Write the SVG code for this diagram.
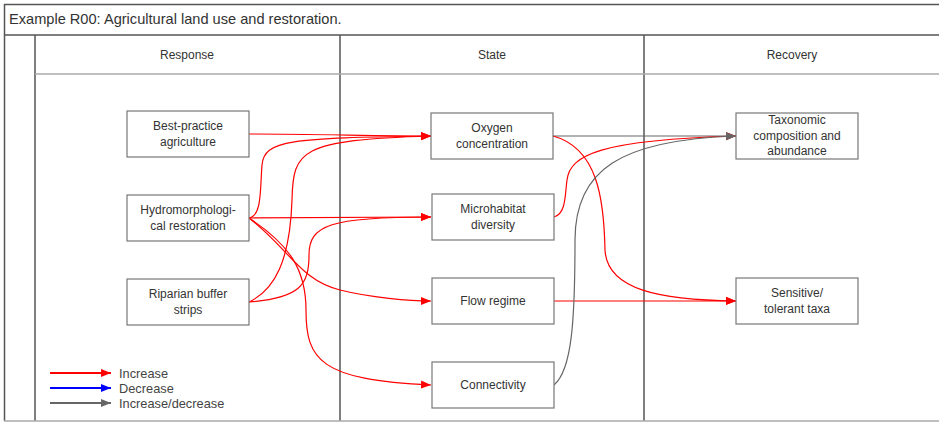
<svg xmlns="http://www.w3.org/2000/svg" width="939" height="423" viewBox="0 0 939 423">
  <style>
    .frame { fill: none; stroke: #555; stroke-width: 1.5; }
    .rule { fill: none; stroke: #aaa; stroke-width: 1.5; }
    .box { fill: #fff; stroke: #777; stroke-width: 1.2; }
    .lbl { font-family: "Liberation Sans", Arial, sans-serif; font-size: 12px; fill: #333; text-anchor: middle; }
    .title { font-family: "Liberation Sans", Arial, sans-serif; font-size: 14.6px; fill: #333; }
    .leg { font-family: "Liberation Sans", Arial, sans-serif; font-size: 12.8px; fill: #444; }
    .inc { fill: none; stroke: #ff0000; stroke-width: 1.2; marker-end: url(#ahRed); }
    .mix { fill: none; stroke: #666; stroke-width: 1.2; marker-end: url(#ahGray); }
  </style>
  <defs>
    <marker id="ahRed" markerUnits="userSpaceOnUse" markerWidth="10" markerHeight="10" viewBox="0 0 10 10" refX="10" refY="5" orient="auto">
      <path d="M0,1 L10,5 L0,9 Z" fill="#ff0000"/>
    </marker>
    <marker id="ahGray" markerUnits="userSpaceOnUse" markerWidth="10" markerHeight="10" viewBox="0 0 10 10" refX="10" refY="5" orient="auto">
      <path d="M0,1 L10,5 L0,9 Z" fill="#666"/>
    </marker>
    <marker id="ahBlue" markerUnits="userSpaceOnUse" markerWidth="10" markerHeight="10" viewBox="0 0 10 10" refX="10" refY="5" orient="auto">
      <path d="M0,1 L10,5 L0,9 Z" fill="#0000ff"/>
    </marker>
  </defs>

  <rect width="939" height="423" fill="#fff"/>

  <!-- table frame -->
  <g id="frame">
    <line class="frame" x1="4" y1="4.5" x2="939" y2="4.5" stroke-width="2"/>
    <line class="frame" x1="4" y1="35" x2="939" y2="35" stroke-width="2"/>
    <line class="frame" x1="4.5" y1="4" x2="4.5" y2="421"/>
    <line class="frame" x1="35" y1="35" x2="35" y2="421"/>
    <line class="frame" x1="340" y1="35" x2="340" y2="421"/>
    <line class="frame" x1="644" y1="35" x2="644" y2="421"/>
    <line class="rule" x1="35" y1="74" x2="939" y2="74"/>
    <line class="rule" x1="4" y1="421" x2="939" y2="421"/>
    <text class="title" x="9" y="24">Example R00: Agricultural land use and restoration.</text>
    <text class="lbl" x="187" y="59">Response</text>
    <text class="lbl" x="492" y="59">State</text>
    <text class="lbl" x="792" y="59">Recovery</text>
  </g>

  <!-- connectors -->
  <g id="connectors">
    <path class="inc" d="M249,134 C310,134 380,136 431,136"/>
    <path class="inc" d="M249,218 C262,216 260,190 262,165 C264,140 290,138 431,136"/>
    <path class="inc" d="M249,302 C275,290 290,260 292,200 C293,150 300,140 431,136"/>
    <path class="inc" d="M249,218 L431,217"/>
    <path class="inc" d="M249,302 C300,298 309,285 309,255 C309,225 330,217 431,217"/>
    <path class="inc" d="M249,218 C290,250 300,280 340,290 C370,297.5 410,301 431,301"/>
    <path class="inc" d="M249,218 C290,245 306,270 306,310 C306,360 320,380 431,385"/>
    <path class="mix" d="M553,136 L736,136"/>
    <path class="inc" d="M553,136 C598,148 604,200 605,250 C607,290 660,300 736,301"/>
    <path class="inc" d="M554,217 C566,214 565,195 567,180 C570,155 600,140 736,136"/>
    <path class="inc" d="M554,301 L736,301"/>
    <path class="mix" d="M554,385 C572,370 575,320 575,240 C575,170 620,140 736,136"/>
  </g>

  <!-- Response column -->
  <g id="best-practice">
    <rect class="box" x="127" y="111" width="122" height="46"/>
    <text class="lbl" x="188" y="130">Best-practice</text>
    <text class="lbl" x="188" y="146">agriculture</text>
  </g>
  <g id="hydromorphological">
    <rect class="box" x="127" y="195" width="122" height="46"/>
    <text class="lbl" x="188" y="214">Hydromorphologi-</text>
    <text class="lbl" x="188" y="230">cal restoration</text>
  </g>
  <g id="riparian">
    <rect class="box" x="127" y="279" width="122" height="46"/>
    <text class="lbl" x="188" y="298">Riparian buffer</text>
    <text class="lbl" x="188" y="314">strips</text>
  </g>

  <!-- State column -->
  <g id="oxygen">
    <rect class="box" x="431" y="113" width="122" height="46"/>
    <text class="lbl" x="492" y="132">Oxygen</text>
    <text class="lbl" x="492" y="148">concentration</text>
  </g>
  <g id="microhabitat">
    <rect class="box" x="432" y="194" width="122" height="46"/>
    <text class="lbl" x="493" y="213">Microhabitat</text>
    <text class="lbl" x="493" y="229">diversity</text>
  </g>
  <g id="flow">
    <rect class="box" x="432" y="278" width="122" height="46"/>
    <text class="lbl" x="493" y="305">Flow regime</text>
  </g>
  <g id="connectivity">
    <rect class="box" x="432" y="362" width="122" height="46"/>
    <text class="lbl" x="493" y="389">Connectivity</text>
  </g>

  <!-- Recovery column -->
  <g id="taxonomic">
    <rect class="box" x="736" y="113" width="122" height="46"/>
    <text class="lbl" x="797" y="124">Taxonomic</text>
    <text class="lbl" x="797" y="139.5">composition and</text>
    <text class="lbl" x="797" y="155">abundance</text>
  </g>
  <g id="sensitive">
    <rect class="box" x="736" y="278" width="122" height="46"/>
    <text class="lbl" x="797" y="297">Sensitive/</text>
    <text class="lbl" x="797" y="313">tolerant taxa</text>
  </g>

  <!-- legend -->
  <g id="legend">
    <line x1="50" y1="373" x2="111" y2="373" stroke="#ff0000" stroke-width="2" marker-end="url(#ahRed)"/>
    <line x1="50" y1="388" x2="111" y2="388" stroke="#0000ff" stroke-width="2" marker-end="url(#ahBlue)"/>
    <line x1="50" y1="403" x2="111" y2="403" stroke="#666" stroke-width="2" marker-end="url(#ahGray)"/>
    <text class="leg" x="119" y="378">Increase</text>
    <text class="leg" x="119" y="393">Decrease</text>
    <text class="leg" x="119" y="408">Increase/decrease</text>
  </g>
</svg>
